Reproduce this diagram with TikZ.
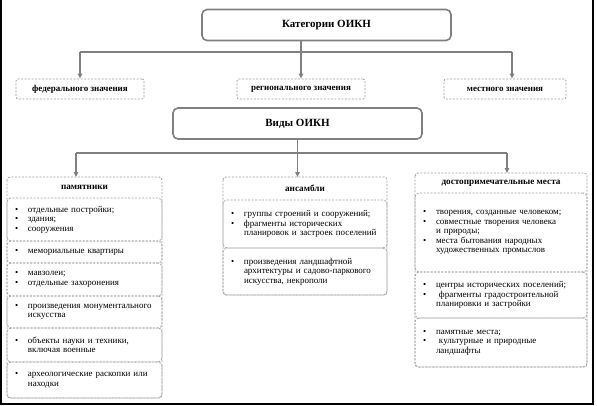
\documentclass[tikz,border=0pt]{standalone}
\usepackage{fontspec}
\setmainfont{Liberation Serif}
\usetikzlibrary{positioning,arrows.meta}

\definecolor{linegray}{HTML}{808080}
\definecolor{dashgray}{HTML}{A0A0A0}

% bullet and indent for the item lists
\newcommand{\itm}{\makebox[13pt][l]{\textbullet}}
\newcommand{\ind}{\hspace*{13pt}}

\tikzset{
  mainbox/.style={draw=linegray, line width=1.6pt, rounded corners=5pt,
    minimum width=249pt, minimum height=31pt,
    font=\fontsize{11}{13}\selectfont\bfseries},
  valbox/.style={draw=dashgray, line width=0.8pt, dash pattern=on 2pt off 1.5pt,
    rounded corners=2pt, minimum width=128pt, minimum height=20pt,
    font=\fontsize{9}{10}\selectfont\bfseries},
  headbox/.style={anchor=north west, outer sep=0pt, inner sep=0pt,
    font=\fontsize{9.2}{10}\selectfont\bfseries},
  itembox/.style={draw=dashgray, line width=0.8pt, dash pattern=on 2pt off 1.5pt,
    rounded corners=4pt, outer sep=0pt, inner xsep=8pt, align=left,
    font=\fontsize{9}{9.5}\selectfont},
  outerbox/.style={draw=dashgray, line width=0.8pt, dash pattern=on 2pt off 1.5pt,
    rounded corners=3pt},
  conn/.style={draw=linegray, line width=1.5pt},
  tip/.style={-{Triangle[length=5pt,width=4.5pt]}},
  col1/.style={minimum width=155pt, text width=139pt},
  col2/.style={minimum width=164pt, text width=148pt},
  col3/.style={minimum width=172pt, text width=156pt},
}

\begin{document}
\begin{tikzpicture}[x=1pt,y=-1pt]
  \useasboundingbox (0,0) rectangle (597,405);
  % frame of the screenshot
  \draw[line width=2pt] (1,0) -- (1,404) -- (593,404) -- (593,0);

  % categories
  \node[mainbox] (cat) at (326.5,25) {Категории ОИКН};
  \node[valbox] (fed) at (80,89) {федерального значения};
  \node[valbox] (reg) at (301,89) {регионального значения};
  \node[valbox, minimum width=122pt] (mest) at (505,89) {местного значения};

  \coordinate (t1) at (80,52);
  \coordinate (t3) at (512,52);
  \draw[conn] (t1) -- (t3);
  \draw[conn,tip] (cat.south -| reg.north) -- (reg.north);
  \draw[conn,tip] (t1) -- (fed.north);
  \draw[conn,tip] (t3) -- (t3 |- mest.north);

  % types
  \node[mainbox] (vid) at (297.5,123.5) {Виды ОИКН};

  % column 1
  \node[headbox, col1, minimum height=21pt, text width=, align=center] (pam) at (7,177) {памятники};
  \node[itembox, col1, minimum height=43pt, below=0pt of pam] (p1)
    {\itm отдельные постройки;\\ \itm здания;\\ \itm сооружения};
  \node[itembox, col1, minimum height=22pt, below=0pt of p1] (p2)
    {\itm мемориальные квартиры};
  \node[itembox, col1, minimum height=33pt, below=0pt of p2] (p3)
    {\itm мавзолеи;\\ \itm отдельные захоронения};
  \node[itembox, col1, minimum height=32pt, below=0pt of p3] (p4)
    {\itm произведения монументального\\ \ind искусства};
  \node[itembox, col1, minimum height=34pt, below=0pt of p4] (p5)
    {\itm объекты науки и техники,\\ \ind включая военные};
  \node[itembox, col1, minimum height=36pt, below=0pt of p5] (p6)
    {\itm археологические раскопки или\\ \ind находки};
  \draw[outerbox] (pam.north west) rectangle (p6.south east);

  % column 2
  \node[headbox, col2, minimum height=23pt, text width=, align=center] (ans) at (223,177) {ансамбли};
  \node[itembox, col2, minimum height=48pt, below=0pt of ans] (a1)
    {\itm группы строений и сооружений;\\ \itm фрагменты исторических\\ \ind планировок и застроек поселений};
  \node[itembox, col2, minimum height=47pt, below=0pt of a1] (a2)
    {\itm произведения ландшафтной\\ \ind архитектуры и садово-паркового\\ \ind искусства, некрополи};
  \draw[outerbox] (ans.north west) rectangle (a2.south east);

  % column 3
  \node[headbox, col3, minimum height=20pt, text width=, align=center] (dost) at (415,173) {достопримечательные места};
  \node[itembox, col3, minimum height=79pt, below=0pt of dost] (d1)
    {\itm творения, созданные человеком;\\ \itm совместные творения человека\\ \ind и природы;\\ \itm места бытования народных\\ \ind художественных промыслов};
  \node[itembox, col3, minimum height=46pt, below=0pt of d1] (d2)
    {\itm центры исторических поселений;\\ \itm\ фрагменты градостроительной\\ \ind планировки и застройки};
  \node[itembox, col3, minimum height=49pt, below=0pt of d2] (d3)
    {\itm памятные места;\\ \itm\ культурные и природные\\ \ind ландшафты};
  \draw[outerbox] (dost.north west) rectangle (d3.south east);

  \coordinate (v1) at (76,153);
  \coordinate (v3) at (507,153);
  \draw[conn] (v1) -- (v3);
  \draw[conn,tip] (vid.south) -- (vid.south |- ans.north);
  \draw[conn,tip] (v1) -- (v1 |- pam.north);
  \draw[conn,tip] (v3) -- (v3 |- dost.north);
\end{tikzpicture}
\end{document}
